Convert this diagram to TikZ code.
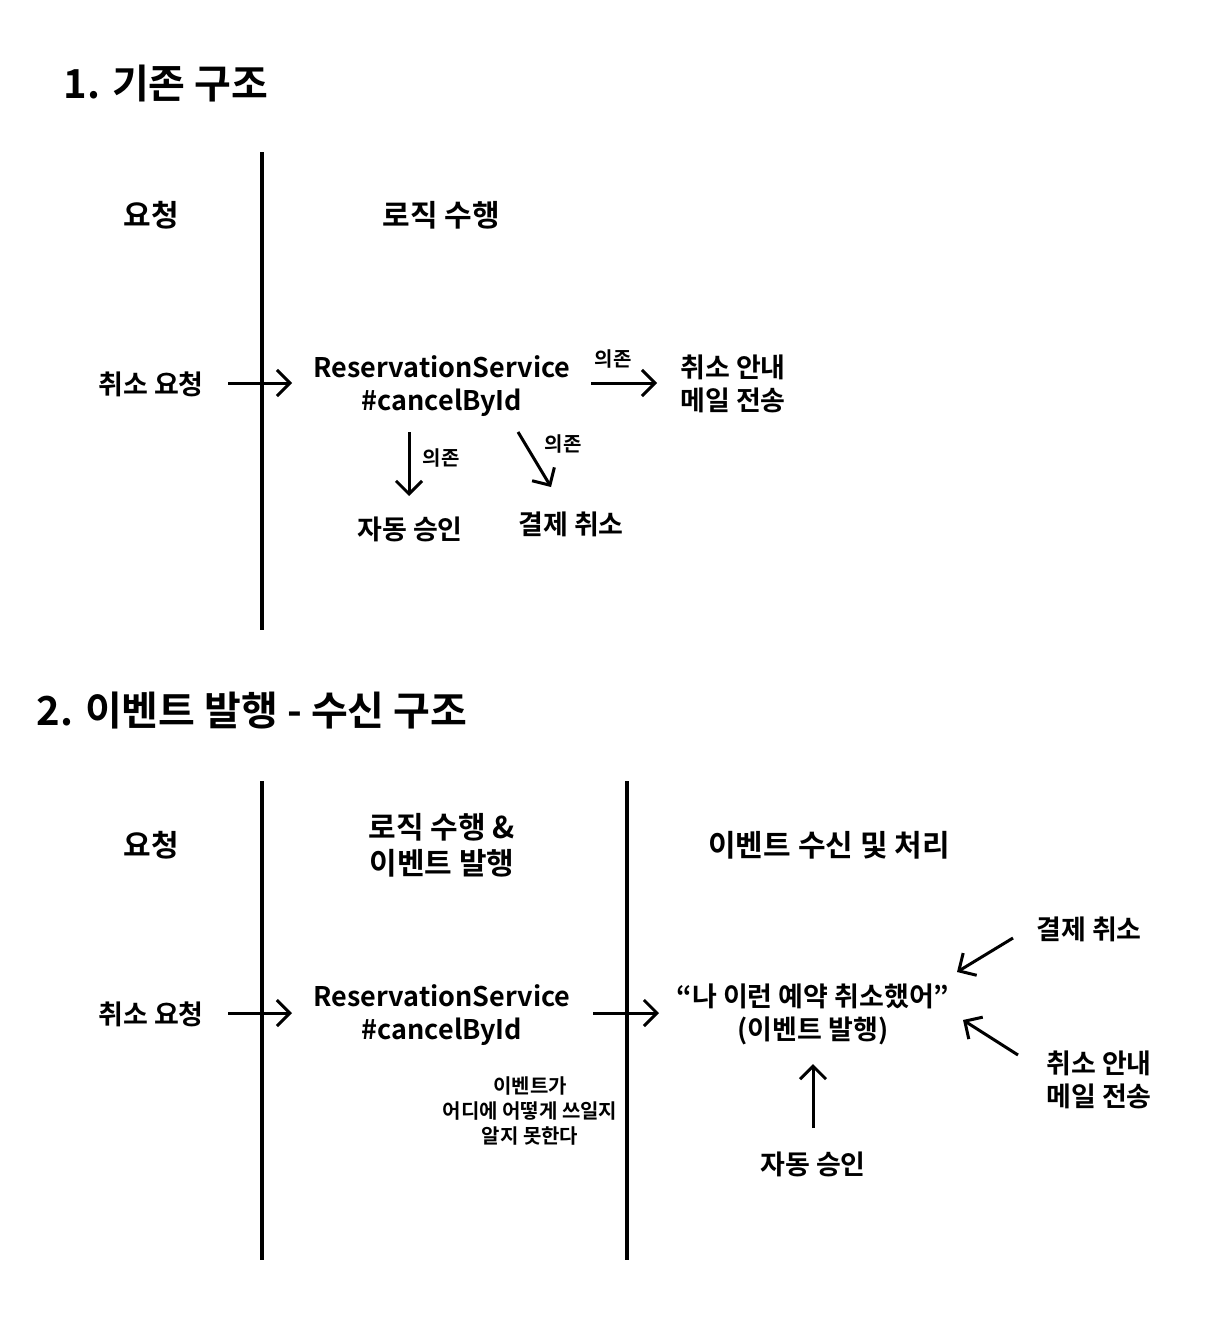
\documentclass[tikz,border=0pt]{standalone}
\usepackage{fontspec}
\setmainfont{Noto Sans CJK KR}[UprightFont=* Bold]
\usetikzlibrary{arrows.meta}
\begin{document}
\begin{tikzpicture}[x=0.5pt,y=-0.5pt,
  every node/.style={inner sep=0pt, align=center, text=black},
  title/.style={anchor=west, font=\fontsize{20}{24}\selectfont},
  head/.style={font=\fontsize{15}{18}\selectfont},
  lbl/.style={font=\fontsize{13.5}{16.5}\selectfont},
  small/.style={font=\fontsize{10}{12.5}\selectfont},
  divider/.style={line width=2pt},
  arr/.style={line width=1.5pt, -{Straight Barb[length=6.5pt,width=13pt,line width=1.5pt]}}]
\useasboundingbox (0,0) rectangle (1220,1322);

% ---------- Section 1 ----------
\node[title] (t1) at (63,84) {1. 기존 구조};
\coordinate (d1a) at (262,152);
\coordinate (d1b) at (262,630);
\draw[divider] (d1a) -- (d1b);

\node[head] (h1a) at (151,215) {요청};
\node[head] (h1b) at (441,215) {로직 수행};

\node[lbl] (req1) at (151,384) {취소 요청};
\node[lbl] (rs1) at (442,386) {ReservationService\\\#cancelById};
\node[lbl] (mail1) at (733,384) {취소 안내\\메일 전송};
\node[lbl] (auto1) at (410,529) {자동 승인};
\node[lbl] (pay1) at (571,524) {결제 취소};

\coordinate (a1s) at (228,383); \coordinate (a1e) at (292,383);
\draw[arr] (a1s) -- (a1e);
\coordinate (a2s) at (591,383); \coordinate (a2e) at (657,383);
\draw[arr] (a2s) -- (a2e);
\node[small] (dep1) at (613,359) {의존};
\coordinate (a3s) at (409,432); \coordinate (a3e) at (409,496);
\draw[arr] (a3s) -- (a3e);
\node[small] (dep2) at (441,458) {의존};
\coordinate (a4s) at (518,432); \coordinate (a4e) at (551,487);
\draw[arr] (a4s) -- (a4e);
\node[small] (dep3) at (563,444) {의존};

% ---------- Section 2 ----------
\node[title] (t2) at (36,711) {2. 이벤트 발행 - 수신 구조};
\coordinate (d2a) at (262,781); \coordinate (d2b) at (262,1260);
\draw[divider] (d2a) -- (d2b);
\coordinate (d3a) at (627,781); \coordinate (d3b) at (627,1260);
\draw[divider] (d3a) -- (d3b);

\node[head] (h2a) at (151,845) {요청};
\node[head] (h2b) at (442,845) {로직 수행 \&\\이벤트 발행};
\node[head] (h2c) at (829,845) {이벤트 수신 및 처리};

\node[lbl] (req2) at (151,1014) {취소 요청};
\node[lbl] (rs2) at (442,1015) {ReservationService\\\#cancelById};
\node[lbl] (ev) at (813,1014) {“나 이런 예약 취소했어”\\(이벤트 발행)};
\node[small] (note) at (530,1111) {이벤트가\\어디에 어떻게 쓰일지\\알지 못한다};
\node[lbl] (pay2) at (1089,929) {결제 취소};
\node[lbl] (mail2) at (1099,1080) {취소 안내\\메일 전송};
\node[lbl] (auto2) at (813,1164) {자동 승인};

\coordinate (b1s) at (228,1013); \coordinate (b1e) at (292,1013);
\draw[arr] (b1s) -- (b1e);
\coordinate (b2s) at (593,1013); \coordinate (b2e) at (659,1013);
\draw[arr] (b2s) -- (b2e);
\coordinate (b3s) at (1013,938); \coordinate (b3e) at (957,972);
\draw[arr] (b3s) -- (b3e);
\coordinate (b4s) at (1018,1055); \coordinate (b4e) at (963,1020);
\draw[arr] (b4s) -- (b4e);
\coordinate (b5s) at (813,1128); \coordinate (b5e) at (813,1064);
\draw[arr] (b5s) -- (b5e);
\end{tikzpicture}
\end{document}
